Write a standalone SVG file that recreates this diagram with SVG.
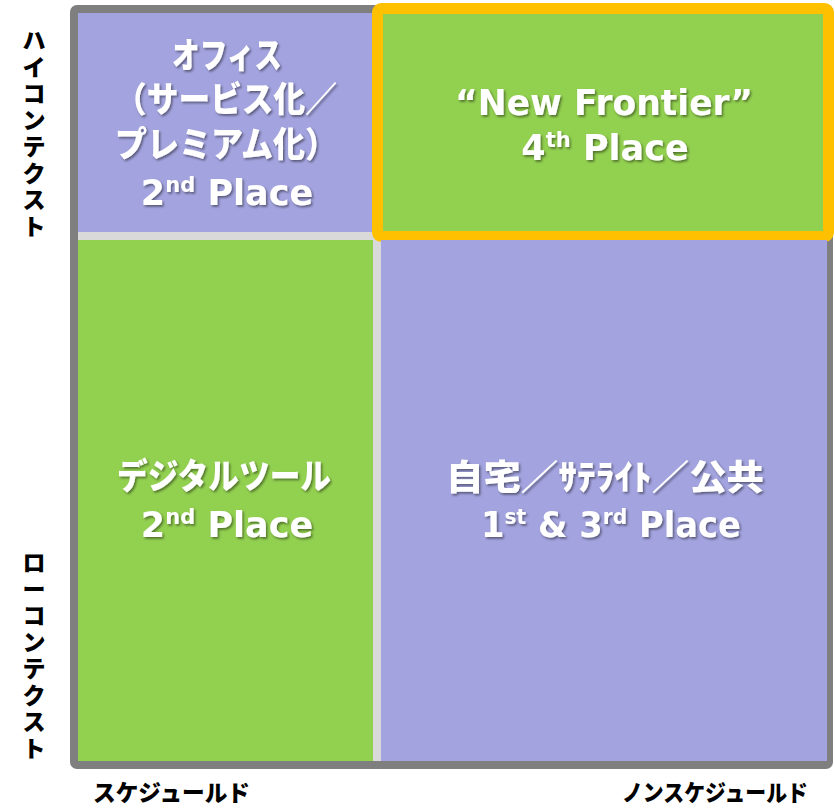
<svg xmlns="http://www.w3.org/2000/svg" width="835" height="809" viewBox="0 0 835 809">
<defs>
<filter id="sh" x="-10%" y="-30%" width="120%" height="160%">
<feDropShadow dx="1.5" dy="1.8" stdDeviation="1.2" flood-color="#000" flood-opacity="0.45"/>
</filter>
<style>
.jp{font-family:"Noto Sans CJK JP","Noto Sans",sans-serif;font-weight:900;}
.en{font-family:"DejaVu Sans","Noto Sans CJK JP",sans-serif;font-weight:bold;}
.q{fill:#ffffff;font-size:35px;text-anchor:middle;filter:url(#sh);}
.sup{font-size:21px;}
.ax{fill:#000000;font-size:23px;}
.purple{fill:#A3A3DF;}
.green{fill:#92D050;}
</style>
</defs>
<rect x="74" y="9" width="755" height="756" rx="3" fill="#D9D9D9" stroke="#7F7F7F" stroke-width="8"/>
<g id="office">
<rect class="purple" x="78" y="13" width="295" height="219"/>
<text class="q jp" x="227" y="68" textLength="110" lengthAdjust="spacingAndGlyphs">オフィス</text>
<text class="q jp" x="226" y="112" textLength="222" lengthAdjust="spacingAndGlyphs">（サービス化／</text>
<text class="q jp" x="226" y="157" textLength="222" lengthAdjust="spacingAndGlyphs">プレミアム化）</text>
<text class="q en" x="227" y="205">2<tspan class="sup" dy="-13">nd</tspan><tspan dy="13"> Place</tspan></text>
</g>
<g id="new-frontier">
<rect class="green" x="381" y="13" width="446" height="219"/>
<rect x="377.5" y="8.5" width="451" height="228" rx="4" fill="none" stroke="#FFC000" stroke-width="11"/>
<text class="q en" x="604" y="115" textLength="298" lengthAdjust="spacingAndGlyphs">“New Frontier”</text>
<text class="q en" x="605" y="160">4<tspan class="sup" dy="-13">th</tspan><tspan dy="13"> Place</tspan></text>
</g>
<g id="digital-tools">
<rect class="green" x="78" y="240" width="295" height="521"/>
<text class="q jp" x="224" y="489" textLength="214" lengthAdjust="spacingAndGlyphs">デジタルツール</text>
<text class="q en" x="227" y="537">2<tspan class="sup" dy="-13">nd</tspan><tspan dy="13"> Place</tspan></text>
</g>
<g id="home-satellite-public">
<rect class="purple" x="381" y="240" width="446" height="521"/>
<text class="q jp" x="605" y="490" textLength="318" lengthAdjust="spacingAndGlyphs">自宅／ｻﾃﾗｲﾄ／公共</text>
<text class="q en" x="611" y="537" textLength="260" lengthAdjust="spacingAndGlyphs">1<tspan class="sup" dy="-13">st</tspan><tspan dy="13"> &amp; 3</tspan><tspan class="sup" dy="-13">rd</tspan><tspan dy="13"> Place</tspan></text>
</g>
<g id="connectors"/>
<g id="axis-high-context">
<text class="ax jp" text-anchor="middle"><tspan x="34" y="49">ハ</tspan><tspan x="34" dy="26.5">イ</tspan><tspan x="34" dy="26.5">コ</tspan><tspan x="34" dy="26.5">ン</tspan><tspan x="34" dy="26.5">テ</tspan><tspan x="34" dy="26.5">ク</tspan><tspan x="34" dy="26.5">ス</tspan><tspan x="34" dy="26.5">ト</tspan></text>
</g>
<g id="axis-low-context">
<text class="ax jp" text-anchor="middle"><tspan x="34" y="571">ロ</tspan><tspan x="34" dy="26.5">ー</tspan><tspan x="34" dy="26.5">コ</tspan><tspan x="34" dy="26.5">ン</tspan><tspan x="34" dy="26.5">テ</tspan><tspan x="34" dy="26.5">ク</tspan><tspan x="34" dy="26.5">ス</tspan><tspan x="34" dy="26.5">ト</tspan></text>
</g>
<g id="axis-scheduled">
<text class="ax jp" x="93" y="801" textLength="157" lengthAdjust="spacingAndGlyphs">スケジュールド</text>
</g>
<g id="axis-unscheduled">
<text class="ax jp" x="622" y="801" textLength="186" lengthAdjust="spacingAndGlyphs">ノンスケジュールド</text>
</g>
</svg>
